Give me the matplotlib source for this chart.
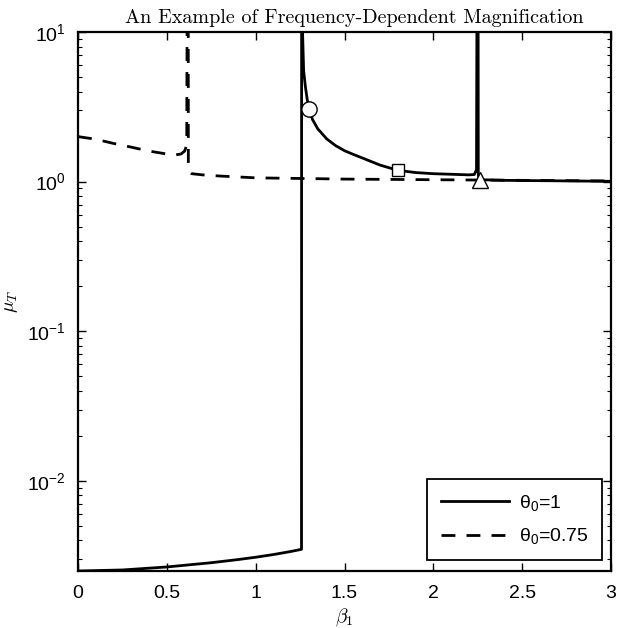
import numpy as np
import matplotlib
matplotlib.use("Agg")
import matplotlib.pyplot as plt

plt.rcParams['font.family'] = ['Liberation Sans', 'DejaVu Sans']
plt.rcParams['mathtext.fontset'] = 'custom'
plt.rcParams['mathtext.rm'] = 'Liberation Sans'
plt.rcParams['mathtext.it'] = 'Liberation Sans:italic'
plt.rcParams['mathtext.bf'] = 'Liberation Sans:bold'

# theta0 = 1 (solid): branches separated by poles at ~1.259 and ~2.25
solid_x = [0.0, 0.25, 0.5, 0.75, 0.9, 1.0, 1.1, 1.2, 1.258, 1.2589,
           1.2591, 1.262, 1.27, 1.28, 1.29, 1.3, 1.32, 1.35, 1.4, 1.45, 1.5, 1.55, 1.6, 1.7, 1.8, 1.9,
           2.0, 2.1, 2.2, 2.23, 2.243, 2.2495,
           2.2505, 2.253, 2.258, 2.27, 2.4, 2.6, 2.8, 3.0]
solid_y = [0.0025, 0.00254, 0.00266, 0.00284, 0.00298, 0.00309, 0.00322, 0.00338, 0.00349, 1e3,
           1e3, 12.0, 5.5, 4.3, 3.55, 3.05, 2.6, 2.25, 1.93, 1.74, 1.61, 1.52, 1.44, 1.29, 1.19, 1.15,
           1.13, 1.12, 1.11, 1.115, 1.2, 1e3,
           1e3, 1.1, 1.04, 1.03, 1.02, 1.015, 1.01, 1.005]

# theta0 = 0.75 (dashed): pole at ~0.62
dash_x = [0.0, 0.1, 0.2, 0.3, 0.4, 0.5, 0.55, 0.58, 0.6, 0.612, 0.6185,
          0.6195, 0.621, 0.625, 0.64, 0.7, 0.8, 1.0, 1.25, 1.5, 2.0, 2.5, 3.0]
dash_y = [2.0, 1.92, 1.8, 1.7, 1.6, 1.53, 1.51, 1.53, 1.6, 1.75, 1e3,
          1e3, 1.3, 1.17, 1.13, 1.11, 1.09, 1.06, 1.05, 1.04, 1.03, 1.02, 1.01]

# highlighted points
mark_x = [1.3, 1.8, 2.265]
mark_y = [3.05, 1.19, 1.03]
mark_sym = ['o', 's', '^']
mark_size = [11, 8, 12]

legend_labels = [r'$\mathrm{\theta}_0$=1', r'$\mathrm{\theta}_0$=0.75']
x_ticks = [0, 0.5, 1, 1.5, 2, 2.5, 3]
x_ticklabels = ['0', '0.5', '1', '1.5', '2', '2.5', '3']
y_ticks = [1e-2, 1e-1, 1e0, 1e1]

W, H = 618, 628
L, R, T, B = 78, 611, 32, 571
fig = plt.figure(figsize=(W/100, H/100), dpi=100)
ax = fig.add_axes([L/W, 1-B/H, (R-L)/W, (B-T)/H])

ax.plot(solid_x, solid_y, '-', color='black', lw=2.0, label=legend_labels[0])
ax.plot(dash_x, dash_y, '--', color='black', lw=2.0, dashes=(5, 4), label=legend_labels[1])
for x, y, m, s in zip(mark_x, mark_y, mark_sym, mark_size):
    ax.plot([x], [y], marker=m, markersize=s, markerfacecolor='white',
            markeredgecolor='black', markeredgewidth=1.0, linestyle='none', zorder=5)

ax.set_yscale('log')
ax.set_xlim(0, 3)
ax.set_ylim(0.0025, 10)
ax.set_xticks(x_ticks)
ax.set_xticklabels(x_ticklabels)
ax.set_yticks(y_ticks)

ax.tick_params(which='both', direction='in', top=True, right=True, labelsize=14)
ax.tick_params(axis='x', pad=10)
ax.tick_params(axis='y', pad=9)
ax.tick_params(which='major', length=6, width=1.0)
ax.tick_params(which='minor', length=3, width=0.8)
for sp in ax.spines.values():
    sp.set_linewidth(1.6)

ax.set_title('An Example of Frequency-Dependent Magnification', fontfamily='cmr10',
             fontsize=14.5, pad=6.5, x=0.518)
ax.set_xlabel(r'$\beta_1$', math_fontfamily='cm', fontsize=14, labelpad=3)
ax.set_ylabel(r'$\mu_T$', math_fontfamily='cm', fontsize=14)
ax.yaxis.set_label_coords((20 - L) / (R - L), 0.5)

leg = ax.legend(loc='lower right', fontsize=14, frameon=True, fancybox=False,
                edgecolor='black', framealpha=1, handlelength=3.5,
                bbox_to_anchor=((602-L)/(R-L), (B-560)/(B-T)), borderaxespad=0,
                borderpad=0.7, labelspacing=0.7, handletextpad=0.5)
leg.get_frame().set_linewidth(1.3)

fig.savefig('out.png', dpi=100)
